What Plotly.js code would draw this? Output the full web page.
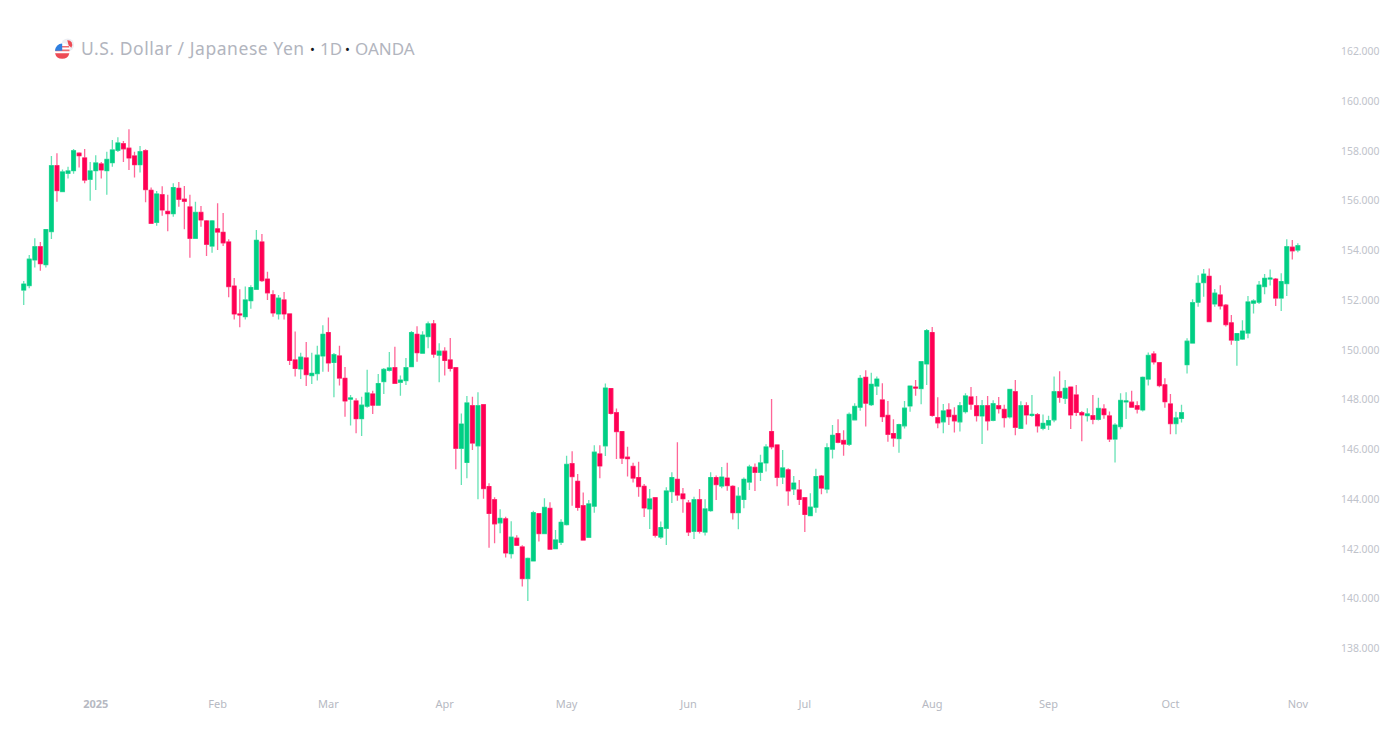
<!DOCTYPE html>
<html>
<head>
<meta charset="utf-8">
<script src="https://cdn.plot.ly/plotly-3.0.1.min.js"></script>
<style>html,body{margin:0;padding:0;background:#fff;overflow:hidden}#chart{width:1400px;height:731px}</style>
</head>
<body>
<div id="chart"></div>
<script>
const opens = [
152.41,152.59,153.62,154.15,153.43,154.76,157.41,156.37,157.10,157.21,
157.91,157.72,156.86,157.21,157.48,157.21,157.53,158.03,158.29,158.11,
157.80,157.45,158.01,156.42,155.13,156.24,155.57,155.48,156.50,156.06,
155.75,154.49,155.53,155.19,154.18,154.87,154.73,154.34,152.57,151.45,
151.34,151.98,152.44,154.34,152.85,152.22,151.45,152.01,151.45,149.60,
149.24,149.68,148.97,149.05,149.76,150.70,149.50,149.76,148.86,148.02,
147.95,147.24,147.74,148.23,147.78,148.73,149.18,149.29,148.70,148.77,
149.33,150.63,149.87,150.54,151.05,149.79,149.95,149.60,149.29,146.05,
145.48,147.76,146.15,147.80,144.51,143.98,143.05,143.21,141.81,142.43,
142.08,140.81,141.52,143.42,142.62,143.63,142.01,142.27,142.98,145.43,
144.72,143.74,142.47,143.72,145.82,146.15,148.45,147.48,146.72,145.69,
145.32,144.87,144.52,143.61,144.06,142.48,142.83,144.31,144.80,144.21,
143.85,142.71,143.98,142.68,143.54,144.87,144.53,144.85,144.52,143.46,
143.99,144.69,145.28,145.08,145.46,146.72,146.18,144.89,145.18,144.41,
144.37,144.06,143.34,143.68,144.93,144.41,146.01,146.64,146.36,146.21,
147.19,147.70,148.90,147.80,148.55,147.99,147.37,146.64,146.44,146.95,
147.75,148.51,148.45,149.44,150.70,147.28,147.11,147.59,147.37,147.11,
147.52,148.11,147.76,147.35,147.76,147.17,147.76,147.61,147.31,148.32,
146.85,147.76,147.37,147.40,146.85,146.98,147.19,148.32,148.06,148.51,
148.19,147.48,147.36,147.36,147.21,147.63,147.35,146.42,146.92,147.91,
147.90,147.76,147.59,148.83,149.84,149.49,148.60,147.83,147.04,147.25,
149.41,150.28,151.92,152.71,152.96,151.85,152.21,151.80,151.09,150.39,
150.44,150.68,151.88,151.92,152.55,152.85,152.85,152.09,152.67,154.13,154.02];
const closes = [
152.65,153.65,154.15,153.47,154.84,157.41,156.41,157.16,157.20,158.01,
157.81,156.83,157.20,157.52,157.24,157.66,158.04,158.32,158.09,157.72,
157.45,157.97,156.45,155.09,156.27,155.63,155.48,156.53,156.06,155.98,
154.49,155.53,155.23,154.25,155.19,154.74,154.31,152.55,151.45,151.41,
152.01,152.51,154.41,152.79,152.30,151.49,152.08,151.45,149.58,149.26,
149.71,149.01,149.06,149.79,150.63,149.48,149.81,148.87,147.95,148.07,
147.24,147.78,148.27,147.78,148.65,149.22,149.28,148.66,148.79,149.29,
150.70,149.89,150.60,151.05,149.83,149.95,149.58,149.26,146.05,147.02,
147.87,146.26,147.76,144.43,143.43,143.01,143.23,141.84,142.47,142.15,
140.81,141.62,143.46,142.62,143.67,141.99,142.36,143.07,145.40,144.91,
143.67,142.36,143.81,145.89,145.34,148.47,147.45,146.72,145.65,145.63,
144.85,144.51,143.65,144.01,142.55,142.86,144.33,144.87,144.17,144.02,
142.68,143.98,142.71,143.61,144.87,144.59,144.89,144.55,143.46,144.12,
144.80,145.30,145.08,145.46,146.10,146.11,144.88,145.26,144.34,144.65,
143.99,143.39,143.68,144.91,144.45,146.07,146.57,146.29,146.22,147.41,
147.73,148.86,147.86,148.62,148.83,147.32,146.61,146.46,147.00,147.66,
148.55,148.47,149.53,150.78,147.37,147.07,147.55,147.32,147.15,147.76,
148.15,147.82,147.36,147.76,147.15,147.84,147.64,147.28,148.41,146.89,
147.76,147.39,147.41,146.95,147.05,147.16,148.32,148.10,148.46,147.39,
147.49,147.39,147.43,147.21,147.65,147.40,146.42,146.98,147.97,147.95,
147.70,147.62,148.90,149.78,149.52,148.57,147.92,147.04,147.27,147.48,
150.35,151.90,152.68,153.05,151.14,152.28,151.77,151.02,150.40,150.66,
150.76,151.93,151.97,152.61,152.88,152.89,152.09,152.75,154.15,153.99,154.19];
const highs = [
152.77,153.82,154.49,154.34,154.85,157.80,157.91,157.26,157.37,158.08,
157.95,158.08,157.56,157.83,157.56,157.97,158.44,158.55,158.40,158.87,
157.97,158.20,158.07,156.53,156.39,156.58,156.24,156.70,156.75,156.59,
156.24,155.96,155.79,155.23,155.23,155.90,155.51,154.45,152.89,152.44,
152.55,152.60,154.82,154.66,153.14,152.40,152.21,152.33,151.45,150.74,
149.89,150.32,149.89,150.17,150.99,151.31,149.88,150.17,149.32,148.19,
148.06,148.12,149.20,148.36,149.03,149.28,149.92,150.13,148.97,149.68,
150.76,150.95,150.75,151.14,151.21,150.27,150.11,150.48,149.29,147.45,
148.15,148.12,148.30,147.80,144.64,144.08,143.60,143.30,143.11,142.55,
142.15,141.66,143.54,143.43,144.04,143.88,142.76,143.19,145.75,145.93,
145.01,144.27,143.97,146.17,146.17,148.65,148.47,147.65,146.72,146.11,
145.47,145.51,144.61,144.41,144.08,143.10,144.48,145.08,146.29,144.45,
143.97,144.10,144.41,144.00,145.08,144.95,145.30,145.47,144.56,144.48,
144.87,145.39,145.44,145.79,146.21,148.03,146.18,145.98,145.24,144.93,
144.77,144.08,144.24,145.22,144.97,146.25,146.98,147.21,146.77,147.49,
147.86,148.99,149.18,149.08,148.93,148.66,147.95,147.21,147.03,147.95,
148.57,148.79,149.54,150.84,150.92,148.10,147.83,147.86,147.70,147.91,
148.26,148.51,148.15,147.99,148.15,147.98,148.11,147.80,148.42,148.79,
147.94,147.90,148.19,147.47,147.41,147.36,148.93,149.14,148.79,148.53,
148.59,147.55,147.66,148.19,148.08,147.82,147.53,147.05,148.26,148.30,
148.36,147.94,148.93,149.90,149.95,149.50,148.86,148.23,147.52,147.80,
150.47,152.04,153.00,153.26,153.28,152.45,152.60,151.85,151.41,150.67,
151.19,152.17,152.04,152.77,153.05,153.24,152.89,153.08,154.45,154.42,154.29];
const lows = [
151.81,152.48,153.32,153.19,153.32,154.46,155.96,156.34,156.89,157.08,
157.34,156.70,156.00,156.43,156.89,156.24,157.37,157.96,157.56,157.24,
156.93,157.13,155.94,155.09,154.99,155.40,154.77,155.36,155.76,154.85,
153.71,154.49,154.95,153.78,153.91,154.02,154.18,152.12,151.23,150.91,
151.23,151.66,152.41,152.73,152.01,151.34,151.23,151.23,149.40,148.93,
148.83,148.55,148.63,148.77,149.12,149.12,148.10,148.57,147.32,146.96,
146.65,146.54,147.68,147.43,147.78,148.23,149.13,148.63,148.16,148.59,
149.33,149.53,149.87,150.07,149.69,148.70,148.97,149.13,145.20,144.57,
144.84,145.98,144.00,144.02,142.05,142.23,142.63,141.66,141.62,142.12,
140.49,139.91,141.52,142.30,142.62,141.99,141.99,142.16,142.94,143.74,
143.54,142.36,142.47,143.46,144.84,145.74,147.41,145.62,145.42,144.91,
144.67,144.10,143.29,142.80,142.46,142.40,142.16,143.85,143.94,143.46,
142.52,142.40,142.62,142.54,143.50,143.97,144.44,144.34,143.18,142.79,
143.64,144.37,144.33,144.73,145.11,146.01,144.52,144.61,143.74,144.17,
143.77,142.68,143.33,143.46,144.20,144.24,145.64,146.25,145.75,146.14,
147.19,147.56,146.92,147.75,148.19,147.10,146.31,146.11,145.87,146.84,
147.52,148.16,147.82,148.59,147.32,146.85,146.65,146.98,146.68,146.72,
147.45,147.60,147.12,146.22,146.76,147.13,147.45,146.88,147.25,146.57,
146.85,147.00,147.32,146.68,146.77,146.78,147.09,147.88,147.83,146.82,
147.35,146.33,147.12,147.01,147.16,147.24,146.30,145.48,146.81,147.22,
147.68,147.45,147.53,148.57,149.42,148.50,147.68,146.61,146.61,147.08,
149.05,150.27,151.74,152.14,151.14,151.74,151.63,150.94,150.21,149.37,
150.40,150.47,151.47,151.85,152.24,152.59,151.77,151.57,152.17,153.64,153.93];

const sessionIndex = opens.map((_, i) => i);
const monthTickSessions = [13, 35, 55, 76, 98, 120, 141, 164, 185, 207, 230];
const monthTickLabels = ['<b>2025</b>', 'Feb', 'Mar', 'Apr', 'May', 'Jun', 'Jul', 'Aug', 'Sep', 'Oct', 'Nov'];
const priceTicks = [138, 140, 142, 144, 146, 148, 150, 152, 154, 156, 158, 160, 162];
const priceTickLabels = priceTicks.map(v => v.toFixed(3));

const UP = '#00cf84', DOWN = '#ff0054';
const UP_WICK = 'rgba(0,207,132,0.6)', DOWN_WICK = 'rgba(255,0,84,0.6)';
const LABEL = '#b6b9c2';
const FONT = '"Noto Sans", sans-serif';

const wicks = {
  type: 'candlestick', x: sessionIndex, open: opens, high: highs, low: lows, close: closes,
  increasing: {line: {color: UP_WICK, width: 1.3}, fillcolor: 'rgba(0,0,0,0)'},
  decreasing: {line: {color: DOWN_WICK, width: 1.3}, fillcolor: 'rgba(0,0,0,0)'},
  hoverinfo: 'skip', showlegend: false
};
const bodies = {
  type: 'candlestick', x: sessionIndex, open: opens, close: closes,
  high: opens.map((o, i) => Math.max(o, closes[i])),
  low: opens.map((o, i) => Math.min(o, closes[i])),
  increasing: {line: {color: UP, width: 0.5}, fillcolor: UP},
  decreasing: {line: {color: DOWN, width: 0.5}, fillcolor: DOWN},
  hoverinfo: 'skip', showlegend: false
};

const flag = 'data:image/svg+xml;utf8,' + encodeURIComponent(
 '<svg xmlns="http://www.w3.org/2000/svg" viewBox="0 0 24 24">' +
 '<circle cx="15.5" cy="7.5" r="7" fill="#eceef3"/><path d="M15 2.5A5 5 0 0 1 19.5 10.5L16.5 8Z" fill="#ee4b55"/>' +
 '<circle cx="9.5" cy="14" r="8.6" fill="#fff"/><circle cx="9.5" cy="14" r="8" fill="#fff"/>' +
 '<path d="M2 12.5H17.5V14.5H2Z" fill="#ee6a70"/><path d="M9 8.8H17V10.3H9Z" fill="#ee6a70"/>' +
 '<path d="M1.7 16.5H17.3A8 8 0 0 1 1.7 16.5Z" fill="#ee4b55"/>' +
 '<path d="M1.6 14A8 8 0 0 1 9.5 6V14Z" fill="#2f7fe0"/>' +
 '</svg>');

const layout = {
  width: 1400, height: 731,
  margin: {l: 0, r: 80, t: 0, b: 41, pad: 0},
  paper_bgcolor: '#fff', plot_bgcolor: '#fff',
  boxmode: 'overlay', boxgap: 0.02,
  font: {family: FONT, color: LABEL, size: 11},
  title: {
    text: 'U.S. Dollar / Japanese Yen',
    x: 81 / 1400, xanchor: 'left', y: 1 - 48.5 / 731, yanchor: 'middle',
    font: {family: FONT, size: 17.5, color: '#b2b5be'}
  },
  annotations: [
    {text: '•', x: 312 / 1320, xanchor: 'center', color: '#131722'},
    {text: '1D', x: 318 / 1320, xanchor: 'left', color: '#b2b5be'},
    {text: '•', x: 347 / 1320, xanchor: 'center', color: '#131722'},
    {text: 'OANDA', x: 353 / 1320, xanchor: 'left', color: '#b2b5be'}
  ].map(a => ({
    text: a.text, xref: 'paper', yref: 'paper', x: a.x, xanchor: a.xanchor,
    y: 1 - 48.5 / 690, yanchor: 'middle', showarrow: false,
    font: {family: FONT, size: a.text === '•' ? 13 : 17, color: a.color}
  })),
  xaxis: {
    type: 'linear', range: [-4.28, 234.0], rangeslider: {visible: false},
    showgrid: false, zeroline: false, showline: false,
    tickmode: 'array', tickvals: monthTickSessions, ticktext: monthTickLabels,
    ticks: '', ticklabelstandoff: 6,
    tickfont: {family: FONT, size: 11, color: LABEL}
  },
  yaxis: {
    side: 'right', range: [136.33, 164.07],
    showgrid: false, zeroline: false, showline: false,
    tickmode: 'array', tickvals: priceTicks, ticktext: priceTickLabels,
    ticks: '', ticklabelstandoff: 20,
    tickfont: {family: FONT, size: 10.4, color: '#c0c3cb'}
  },
  images: [{
    source: flag, xref: 'paper', yref: 'paper',
    x: 53.5 / 1320, y: 1 - 38 / 690, sizex: 22 / 1320, sizey: 22 / 690,
    xanchor: 'left', yanchor: 'top', layer: 'above'
  }]
};

Plotly.newPlot('chart', [wicks, bodies], layout, {displayModeBar: false, staticPlot: true}).then(() => {
  const t = document.querySelector('.gtitle');
  if (t) t.style.letterSpacing = '0.55px';
});
</script>
</body>
</html>
